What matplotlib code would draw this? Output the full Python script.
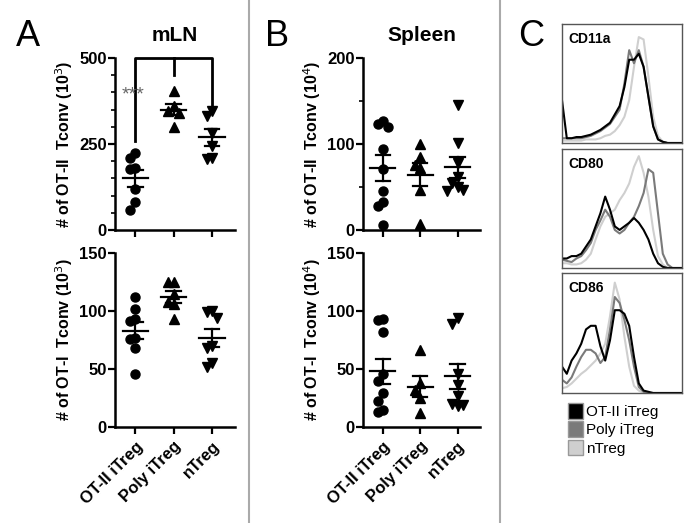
import numpy as np
import matplotlib
matplotlib.use("Agg")
from matplotlib import pyplot as plt
from matplotlib.lines import Line2D
from matplotlib.patches import Patch

plt.rcParams['font.family'] = ['Liberation Sans', 'DejaVu Sans']

groups = ["OT-II iTreg", "Poly iTreg", "nTreg"]
markers = ["o", "^", "v"]

# mLN, OT-II Tconv (10^3)
mln_ot2 = [[225, 210, 180, 178, 120, 82, 58],
           [403, 360, 345, 340, 300],
           [345, 330, 282, 245, 210, 205]]
# mLN, OT-I Tconv (10^3)
mln_ot1 = [[112, 102, 93, 91, 77, 76, 68, 46],
           [125, 125, 115, 108, 106, 93],
           [100, 99, 94, 70, 68, 55, 52]]
# Spleen, OT-II Tconv (10^4)
spl_ot2 = [[127, 123, 120, 94, 71, 45, 33, 28, 6],
           [100, 85, 75, 72, 47, 7],
           [145, 101, 78, 62, 55, 50, 46, 45]]
# Spleen, OT-I Tconv (10^4)
spl_ot1 = [[93, 92, 82, 46, 40, 29, 22, 15, 13],
           [66, 38, 32, 25, 12],
           [94, 89, 46, 36, 27, 20, 19, 18]]

# flow histograms (panel C), % of max on a 0-100 scale
hist_x = np.arange(0, 101, 4)
cd11a = {
    "OT-II iTreg": [36, 4, 4, 5, 5, 6, 7, 9, 11, 14, 17, 24, 31, 47, 70, 70, 75, 64, 39, 14, 3, 1, 0, 0, 0, 0],
    "Poly iTreg": [4, 4, 4, 4, 4, 5, 6, 8, 10, 13, 16, 22, 28, 50, 78, 67, 78, 64, 39, 14, 3, 1, 0, 0, 0, 0],
    "nTreg": [2, 2, 2, 2, 2, 3, 3, 3, 4, 6, 7, 10, 15, 22, 36, 64, 89, 87, 56, 22, 6, 1, 0, 0, 0, 0],
}
cd80 = {
    "OT-II iTreg": [8, 8, 10, 10, 12, 18, 24, 35, 46, 60, 49, 35, 32, 35, 38, 42, 38, 32, 24, 12, 4, 1, 0, 0, 0, 0],
    "Poly iTreg": [7, 6, 5, 8, 10, 15, 21, 32, 40, 49, 43, 32, 29, 32, 38, 43, 52, 63, 83, 80, 46, 12, 3, 0, 0, 0],
    "nTreg": [4, 4, 3, 3, 4, 7, 12, 24, 35, 43, 46, 49, 57, 63, 71, 85, 94, 80, 60, 32, 10, 3, 0, 0, 0, 0],
}
cd86 = {
    "OT-II iTreg": [22, 16, 27, 33, 41, 53, 56, 56, 39, 27, 44, 69, 69, 66, 56, 30, 8, 2, 1, 0, 0, 0, 0, 0, 0, 0],
    "Poly iTreg": [11, 8, 13, 22, 30, 36, 36, 33, 25, 30, 53, 80, 75, 61, 44, 22, 5, 1, 0, 0, 0, 0, 0, 0, 0, 0],
    "nTreg": [4, 5, 8, 12, 16, 19, 23, 27, 33, 41, 64, 92, 78, 47, 22, 6, 2, 0, 0, 0, 0, 0, 0, 0, 0, 0],
}
hist_colors = {"OT-II iTreg": "#000000", "Poly iTreg": "#7a7a7a", "nTreg": "#cfcfcf"}


def jitter(vals, thresh):
    placed = []
    offs = []
    for v in vals:
        for o in [0, -0.14, 0.14, -0.28, 0.28]:
            if all(abs(v - pv) >= thresh or abs(o - po) >= 0.13 for pv, po in placed):
                break
        placed.append((v, o))
        offs.append(o)
    return offs


def scatter_panel(ax, data, ymax, major, minor, ylabel, xlabels):
    for i, vals in enumerate(data):
        offs = jitter(vals, ymax * 0.055)
        ax.plot([i + o for o in offs], vals, linestyle='none', marker=markers[i],
                color='black', markersize=6.5, clip_on=False)
        m = np.mean(vals)
        sem = np.std(vals, ddof=1) / np.sqrt(len(vals))
        ax.plot([i - 0.33, i + 0.33], [m, m], color='black', lw=1.6)
        ax.plot([i - 0.19, i + 0.19], [m + sem, m + sem], color='black', lw=1.6)
        ax.plot([i - 0.19, i + 0.19], [m - sem, m - sem], color='black', lw=1.6)
        ax.plot([i, i], [m - sem, m + sem], color='black', lw=1.6)
    ax.set_ylim(0, ymax)
    ax.set_xlim(-0.53, 2.6)
    ax.set_yticks(np.arange(0, ymax + 1, major))
    if minor:
        ax.set_yticks(np.arange(0, ymax + 1, minor), minor=True)
    ax.set_xticks(range(3))
    ax.spines['top'].set_visible(False)
    ax.spines['right'].set_visible(False)
    ax.spines['left'].set_linewidth(1.8)
    ax.spines['bottom'].set_linewidth(1.8)
    ax.tick_params(axis='both', which='major', direction='out', length=5, width=1.6,
                   labelsize=12)
    ax.tick_params(axis='y', which='minor', direction='out', length=3, width=1.2)
    ax.tick_params(axis='y', pad=1)
    for t in ax.get_yticklabels():
        t.set_fontweight('bold')
    ax.set_ylabel(ylabel, fontsize=11.5, fontweight='bold', labelpad=3)
    if xlabels:
        ax.set_xticklabels(groups, rotation=45, ha='right', rotation_mode='anchor',
                           fontsize=12, fontweight='bold')
    else:
        ax.set_xticklabels([])


def hist_panel(ax, curves, name):
    for g in ["nTreg", "Poly iTreg", "OT-II iTreg"]:
        ax.plot(hist_x, curves[g], color=hist_colors[g], lw=1.5)
    ax.set_xlim(0, 100)
    ax.set_ylim(0, 100)
    ax.set_xticks([])
    ax.set_yticks([])
    for s in ax.spines.values():
        s.set_color('#555555')
        s.set_linewidth(1.0)
    ax.text(0.05, 0.93, name, transform=ax.transAxes, fontsize=10, fontweight='bold',
            ha='left', va='top')


fig = plt.figure(figsize=(7, 5.23), dpi=100)
W, H = 700, 523


def box(x0, y0, x1, y1):
    return [x0 / W, 1 - y1 / H, (x1 - x0) / W, (y1 - y0) / H]


ax1 = fig.add_axes(box(115, 58, 235, 230))
scatter_panel(ax1, mln_ot2, 500, 250, 50, "# of OT-II  Tconv (10$^3$)", False)
ax2 = fig.add_axes(box(115, 253, 235, 427))
scatter_panel(ax2, mln_ot1, 150, 50, None, "# of OT-I  Tconv (10$^3$)", True)
ax3 = fig.add_axes(box(363, 58, 480, 230))
scatter_panel(ax3, spl_ot2, 200, 100, 50, "# of OT-II  Tconv (10$^4$)", False)
ax4 = fig.add_axes(box(363, 253, 480, 427))
scatter_panel(ax4, spl_ot1, 150, 50, None, "# of OT-I  Tconv (10$^4$)", True)

# significance bracket in mLN
ax1.plot([0, 0, 2, 2], [258, 500, 500, 360], color='black', lw=2, clip_on=False)
ax1.plot([1, 1], [500, 452], color='black', lw=2, clip_on=False)
ax1.text(-0.05, 392, "***", color='#666666', fontsize=14, ha='center', va='center')

ax1.set_title("mLN", fontsize=15, fontweight='bold', pad=12)
ax3.set_title("Spleen", fontsize=15, fontweight='bold', pad=12)

hist_panel(fig.add_axes(box(562, 24, 682, 143)), cd11a, "CD11a")
hist_panel(fig.add_axes(box(562, 149, 682, 268)), cd80, "CD80")
hist_panel(fig.add_axes(box(562, 273, 682, 393)), cd86, "CD86")

handles = [Patch(facecolor=hist_colors[g], edgecolor='#999999', label=g) for g in groups]
fig.legend(handles=handles, loc='upper left', bbox_to_anchor=(568 / W, 1 - 403 / H),
           frameon=False, fontsize=11, handlelength=1.0, handleheight=1.2,
           handletextpad=0.2, labelspacing=0.15, borderpad=0, borderaxespad=0)

# panel letters and dividers
for letter, x in [("A", 28), ("B", 277), ("C", 531)]:
    fig.text(x / W, 1 - 36 / H, letter, fontsize=26, ha='center', va='center')
for x in [249, 500]:
    fig.add_artist(Line2D([x / W, x / W], [0, 1], color='#aaaaaa', lw=1.5))

fig.savefig("out.png", dpi=100)
